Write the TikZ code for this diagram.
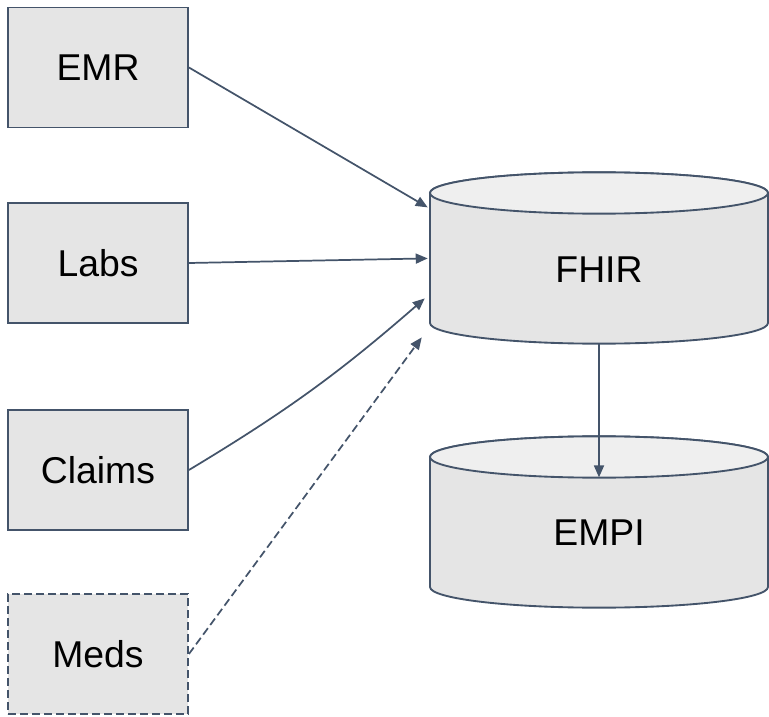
\documentclass[tikz,border=0pt]{standalone}
\usepackage{fontspec}
\setmainfont{Liberation Sans}
\usetikzlibrary{arrows.meta,calc}

\definecolor{edge}{HTML}{44546A}
\definecolor{boxfill}{HTML}{E5E5E5}
\definecolor{capfill}{HTML}{EFEFEF}

\tikzset{
  x=0.75pt, y=-0.75pt,
  src/.style={draw=edge, fill=boxfill, line width=1.4pt, minimum width=135pt,
    minimum height=90pt, inner sep=0pt, font=\fontsize{28}{30}\selectfont},
  srcdash/.style={src, dash pattern=on 6pt off 3pt},
  dbarea/.style={inner sep=0pt, minimum width=253.5pt, minimum height=128pt},
  dblabel/.style={font=\fontsize{28}{30}\selectfont},
  link/.style={draw=edge, line width=1.3pt, -{Triangle[length=9pt,width=7.5pt]}},
  cylbody/.style={draw=edge, fill=boxfill, line width=1.4pt},
  cyltop/.style={draw=edge, fill=capfill, line width=1.4pt},
}

% cylinder: left x, right x, top ellipse centre y, bottom ellipse centre y
\newcommand{\drawdb}[4]{%
  \path[cylbody] (#1,#3) -- (#1,#4)
    arc[start angle=180, end angle=360, x radius=126.75pt, y radius=15.5pt]
    -- (#2,#3) arc[start angle=0, end angle=180, x radius=126.75pt, y radius=15.5pt] -- cycle;
  \path[cyltop] ({(#1+#2)/2},#3) ellipse[x radius=126.75pt, y radius=15.5pt];
}

\begin{document}
\begin{tikzpicture}
\useasboundingbox (0,0) rectangle (769,717);

% source systems
\node[src] (emr) at (98,67.5) {EMR};
\node[src] (labs) at (98,263) {Labs};
\node[src] (claims) at (98,470) {Claims};
\node[srcdash] (meds) at (98,654) {Meds};

% data stores
\drawdb{430}{768}{193}{323}
\drawdb{430}{768}{457}{587}
\node[dbarea] (fhir) at (599,258) {};
\node[dbarea] (empi) at (599,522) {};
\node[dblabel] (fhirlbl) at (599,270) {FHIR};
\node[dblabel] (empilbl) at (599,533) {EMPI};

% feeds into FHIR
\draw[link] (emr.east) -- ($(fhir.north west)+(-2,35)$);
\draw[link] (labs.east) -- ($(fhir.north west)+(-2,86)$);
\draw[link] (claims.east) to[bend right=5] ($(fhir.north west)+(-5,126)$);
\draw[link, dash pattern=on 6pt off 3pt] (meds.east) -- ($(fhir.north west)+(-8,165)$);

% FHIR to EMPI
\draw[link] (fhir.south) -- ($(empi.north)+(0,41)$);
\end{tikzpicture}
\end{document}
